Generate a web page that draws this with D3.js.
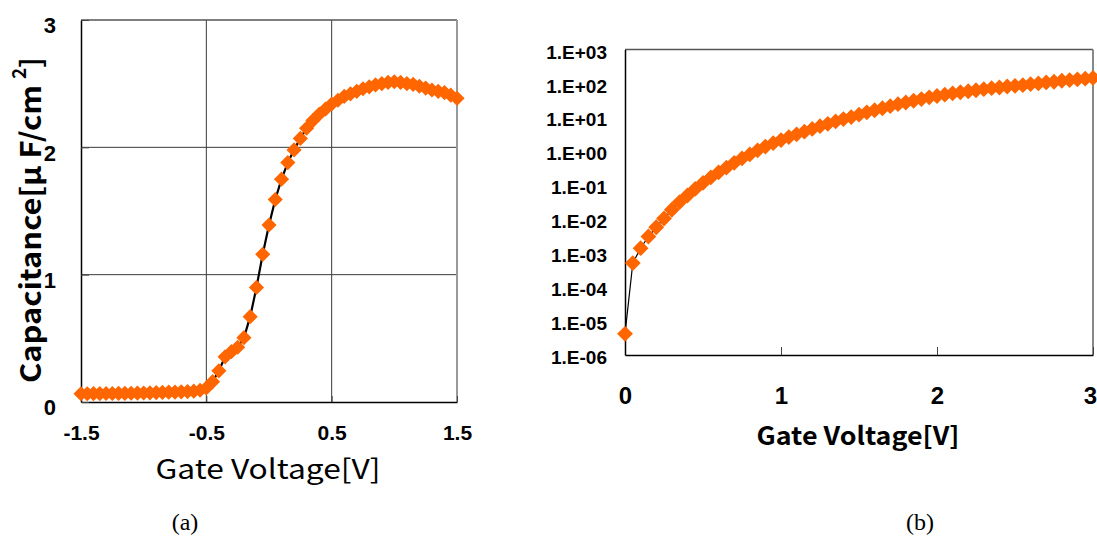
<!DOCTYPE html>
<html>
<head>
<meta charset="utf-8">
<script src="https://cdn.jsdelivr.net/npm/d3@7"></script>
<style>
  body { margin: 0; background: #fff; }
  svg { display: block; }
</style>
</head>
<body>
<svg id="canvas"></svg>
<script>
// (a) C-V curve, linear axis
let voltA = [-1.5, -1.45, -1.4, -1.35, -1.3, -1.25, -1.2, -1.15, -1.1, -1.05,
             -1.0, -0.95, -0.9, -0.85, -0.8, -0.75, -0.7, -0.65, -0.6, -0.55,
             -0.5, -0.45, -0.4, -0.35, -0.3, -0.25, -0.2, -0.15, -0.1, -0.05,
             0, 0.05, 0.1, 0.15, 0.2, 0.25, 0.3, 0.35, 0.4, 0.45,
             0.5, 0.55, 0.6, 0.65, 0.7, 0.75, 0.8, 0.85, 0.9, 0.95,
             1.0, 1.05, 1.1, 1.15, 1.2, 1.25, 1.3, 1.35, 1.4, 1.45, 1.5];
let capA = [0.065, 0.065, 0.066, 0.066, 0.067, 0.067, 0.068, 0.068, 0.069, 0.070,
            0.071, 0.072, 0.074, 0.075, 0.077, 0.078, 0.080, 0.082, 0.085, 0.092,
            0.11, 0.16, 0.245, 0.355, 0.395, 0.43, 0.505, 0.67, 0.90, 1.16,
            1.39, 1.59, 1.75, 1.88, 1.98, 2.07, 2.15, 2.21, 2.26, 2.30,
            2.34, 2.37, 2.40, 2.42, 2.44, 2.46, 2.475, 2.49, 2.50, 2.51,
            2.515, 2.51, 2.50, 2.495, 2.48, 2.465, 2.45, 2.44, 2.43, 2.41, 2.385];
let xTicksA = [-1.5, -0.5, 0.5, 1.5];
let xLabelsA = ["-1.5", "-0.5", "0.5", "1.5"];
let yTicksA = [0, 1, 2, 3];

// (b) same quantity on a log axis
let voltB = [0, 0.05, 0.1, 0.15, 0.2, 0.25, 0.3, 0.35, 0.4, 0.45,
             0.5, 0.55, 0.6, 0.65, 0.7, 0.75, 0.8, 0.85, 0.9, 0.95,
             1.0, 1.05, 1.1, 1.15, 1.2, 1.25, 1.3, 1.35, 1.4, 1.45,
             1.5, 1.55, 1.6, 1.65, 1.7, 1.75, 1.8, 1.85, 1.9, 1.95,
             2.0, 2.05, 2.1, 2.15, 2.2, 2.25, 2.3, 2.35, 2.4, 2.45,
             2.5, 2.55, 2.6, 2.65, 2.7, 2.75, 2.8, 2.85, 2.9, 2.95, 3.0];
let capB = [4.2e-6, 5.1e-4, 1.4e-3, 3.1e-3, 5.8e-3, 1.05e-2, 1.9e-2, 3.2e-2, 5.0e-2, 7.8e-2,
            0.117, 0.17, 0.24, 0.33, 0.46, 0.62, 0.81, 1.07, 1.38, 1.74,
            2.14, 2.63, 3.16, 3.8, 4.57, 5.5, 6.46, 7.6, 8.9, 10.2,
            12.0, 14.1, 16.2, 18.6, 21.4, 24.5, 27.5, 30.9, 34.7, 38.9,
            42.7, 46.8, 51.3, 55.0, 58.9, 63.1, 67.6, 72.4, 75.9, 81.3,
            85.1, 89.1, 95.5, 100, 107, 112, 120, 126, 132, 138, 145];
let xTicksB = [0, 1, 2, 3];
let yTicksB = [1e-6, 1e-5, 1e-4, 1e-3, 1e-2, 1e-1, 1e0, 1e1, 1e2, 1e3];
let yLabelsB = ["1.E-06", "1.E-05", "1.E-04", "1.E-03", "1.E-02",
                "1.E-01", "1.E+00", "1.E+01", "1.E+02", "1.E+03"];

let width = 1097;
let height = 539;
let orange = "#ff6600";
let numFont = "'Liberation Sans', Arial, sans-serif";
let jpFont = "'Noto Sans CJK JP', 'Noto Sans', sans-serif";

let canvas = d3.select("#canvas")
    .attr("width", width)
    .attr("height", height);

let diamond = (area) => d3.symbol().type(d3.symbolSquare).size(area);

let styleTicks = (g, size, dy) => {
    g.select(".domain").attr("stroke", "#000").attr("stroke-width", 1.5);
    g.selectAll(".tick line").attr("stroke", "#444");
    g.selectAll(".tick text")
        .attr("fill", "#000")
        .style("font-family", numFont)
        .style("font-weight", "bold")
        .style("font-size", size + "px");
    if (dy) g.selectAll(".tick text").attr("dy", dy);
};

// ---------- chart (a) ----------
let xA = d3.scaleLinear().domain([-1.5, 1.5]).range([81, 457]);
let yA = d3.scaleLinear().domain([0, 3]).range([402, 20]);

let gA = canvas.append("g");

// grid
gA.selectAll(".vgrid").data([-0.5, 0.5]).enter().append("line")
    .attr("x1", d => xA(d)).attr("x2", d => xA(d))
    .attr("y1", yA(3)).attr("y2", yA(0))
    .attr("stroke", "#3a3a3a").attr("stroke-width", 1);
gA.selectAll(".hgrid").data([1, 2]).enter().append("line")
    .attr("x1", xA(-1.5)).attr("x2", xA(1.5))
    .attr("y1", d => yA(d)).attr("y2", d => yA(d))
    .attr("stroke", "#3a3a3a").attr("stroke-width", 1);
// top + right frame
gA.append("line").attr("x1", xA(-1.5)).attr("x2", xA(1.5))
    .attr("y1", yA(3)).attr("y2", yA(3)).attr("stroke", "#555").attr("stroke-width", 1.5);
gA.append("line").attr("x1", xA(1.5)).attr("x2", xA(1.5))
    .attr("y1", yA(3)).attr("y2", yA(0)).attr("stroke", "#999").attr("stroke-width", 2);

let xAxisA = d3.axisBottom(xA).tickValues(xTicksA)
    .tickFormat((d, i) => xLabelsA[i])
    .tickSizeInner(-6).tickSizeOuter(0).tickPadding(23);
let yAxisA = d3.axisLeft(yA).tickValues(yTicksA)
    .tickFormat(d3.format("d"))
    .tickSizeInner(-8).tickSizeOuter(0).tickPadding(25);

let xAxisGA = gA.append("g").attr("transform", "translate(0," + yA(0) + ")").call(xAxisA);
let yAxisGA = gA.append("g").attr("transform", "translate(" + xA(-1.5) + ",0)").call(yAxisA);
styleTicks(xAxisGA, 21);
styleTicks(yAxisGA, 22, "0.58em");

// line + markers
let lineA = d3.line().x((d, i) => xA(voltA[i])).y(d => yA(d));
gA.append("path").datum(capA)
    .attr("d", lineA).attr("fill", "none")
    .attr("stroke", "#000").attr("stroke-width", 2.2);
gA.selectAll(".ptA").data(capA).enter().append("path")
    .attr("d", diamond(115))
    .attr("transform", (d, i) => "translate(" + xA(voltA[i]) + "," + yA(d) + ") rotate(45)")
    .attr("fill", orange);

// ---------- chart (b) ----------
let xB = d3.scaleLinear().domain([0, 3]).range([625, 1093]);
let yB = d3.scaleLog().domain([1e-6, 1e3]).range([355, 49.5]);

let gB = canvas.append("g");
gB.append("line").attr("x1", xB(0)).attr("x2", xB(3))
    .attr("y1", yB(1e3)).attr("y2", yB(1e3)).attr("stroke", "#555").attr("stroke-width", 1.5);
gB.append("line").attr("x1", xB(3)).attr("x2", xB(3))
    .attr("y1", yB(1e3)).attr("y2", yB(1e-6)).attr("stroke", "#888").attr("stroke-width", 2);

let xAxisB = d3.axisBottom(xB).tickValues(xTicksB)
    .tickFormat(d3.format("d"))
    .tickSizeInner(-8).tickSizeOuter(0).tickPadding(32);
let yAxisB = d3.axisLeft(yB).tickValues(yTicksB)
    .tickFormat((d, i) => yLabelsB[i])
    .tickSizeInner(0).tickSizeOuter(0).tickPadding(18);

let xAxisGB = gB.append("g").attr("transform", "translate(0," + yB(1e-6) + ")").call(xAxisB);
let yAxisGB = gB.append("g").attr("transform", "translate(" + xB(0) + ",0)").call(yAxisB);
styleTicks(xAxisGB, 24);
styleTicks(yAxisGB, 19, "0.45em");
// last label sits against the page edge
xAxisGB.selectAll(".tick text").filter(d => d === 3).attr("dx", "-3");

let lineB = d3.line().x((d, i) => xB(voltB[i])).y(d => yB(d));
gB.append("path").datum(capB)
    .attr("d", lineB).attr("fill", "none")
    .attr("stroke", "#000").attr("stroke-width", 1.2);
gB.selectAll(".ptB").data(capB).enter().append("path")
    .attr("d", diamond(125))
    .attr("transform", (d, i) => "translate(" + xB(voltB[i]) + "," + yB(d) + ") rotate(45)")
    .attr("fill", orange);

// ---------- titles ----------
canvas.append("text")
    .attr("x", 268).attr("y", 479)
    .attr("text-anchor", "middle")
    .attr("textLength", 225).attr("lengthAdjust", "spacingAndGlyphs")
    .style("font-family", jpFont).style("font-size", "27px")
    .text("Gate Voltage[V]");

canvas.append("text")
    .attr("x", 858).attr("y", 445)
    .attr("text-anchor", "middle")
    .attr("textLength", 203).attr("lengthAdjust", "spacingAndGlyphs")
    .style("font-family", jpFont).style("font-size", "25px").style("font-weight", "bold")
    .text("Gate Voltage[V]");

// rotated y title of (a): main part, raised "2", closing bracket
canvas.append("text")
    .attr("transform", "translate(41,383) rotate(-90)")
    .attr("textLength", 298).attr("lengthAdjust", "spacingAndGlyphs")
    .style("font-family", jpFont).style("font-size", "28px").style("font-weight", "bold")
    .text("Capacitance[\u03bc F/cm");
canvas.append("text")
    .attr("transform", "translate(26,79) rotate(-90)")
    .style("font-family", jpFont).style("font-size", "19px").style("font-weight", "bold")
    .text("2");
canvas.append("text")
    .attr("transform", "translate(41,68) rotate(-90)")
    .style("font-family", jpFont).style("font-size", "28px").style("font-weight", "bold")
    .text("]");

canvas.append("text")
    .attr("x", 185).attr("y", 530).attr("text-anchor", "middle")
    .style("font-family", "'Liberation Serif', 'Times New Roman', serif").style("font-size", "24px")
    .text("(a)");
canvas.append("text")
    .attr("x", 920).attr("y", 530).attr("text-anchor", "middle")
    .style("font-family", "'Liberation Serif', 'Times New Roman', serif").style("font-size", "24px")
    .text("(b)");
</script>
</body>
</html>
